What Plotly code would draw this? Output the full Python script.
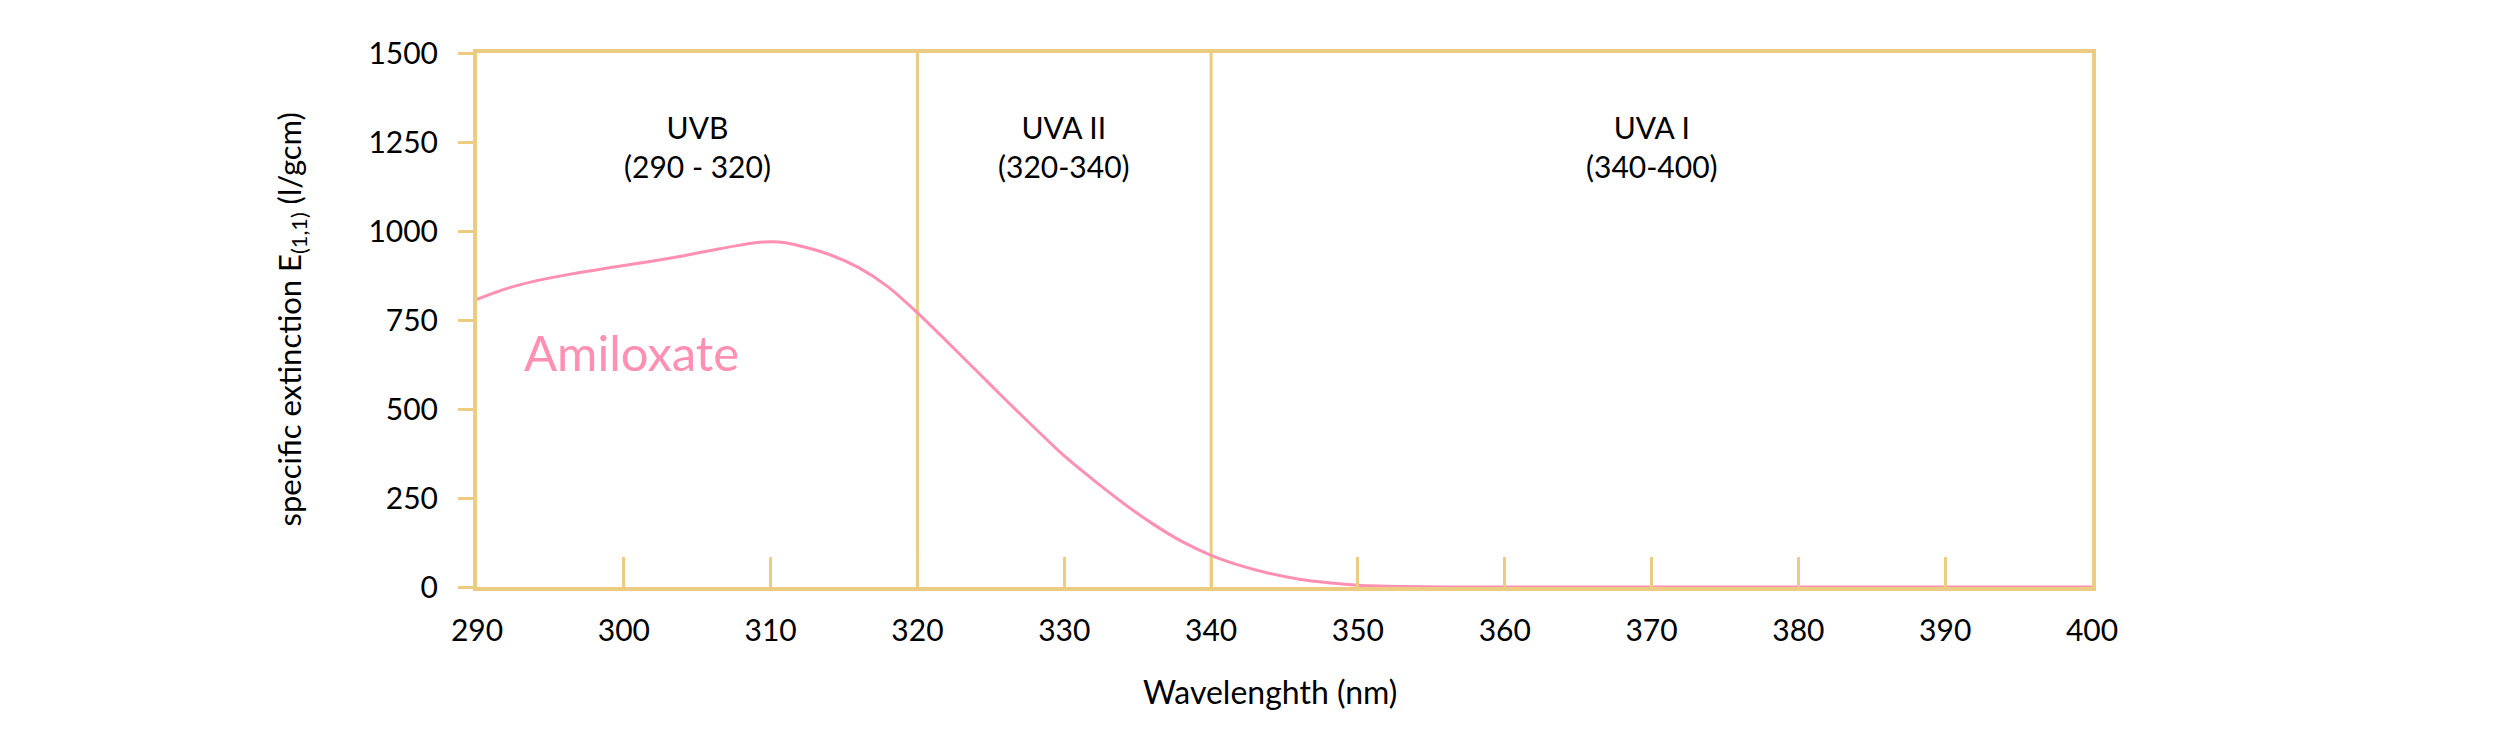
import plotly.graph_objects as go

# Amiloxate absorption curve
wavelength = [290, 292, 294, 296, 298, 300, 302, 304, 306, 308, 309.5, 311, 314, 316, 318,
              320, 322, 324, 326, 328, 330, 332, 334, 336, 338, 340,
              342, 344, 346, 348, 350, 353, 356, 360, 370, 380, 390, 400]
extinction = [808, 838, 860, 876, 890, 903, 916, 930, 946, 961, 969, 967, 934, 897, 843,
              770, 690, 608, 526, 446, 368, 300, 236, 178, 128, 89,
              60, 38, 22, 12, 5, 1.5, 0, 0, 0, 0, 0, 0]

band_edges = [320, 340]
band_names = ["UVB<br>(290 - 320)", "UVA II<br>(320-340)", "UVA I<br>(340-400)"]
band_centers = [305, 330, 370]

x_ticks = [290, 300, 310, 320, 330, 340, 350, 360, 370, 380, 390, 400]
y_ticks = [0, 250, 500, 750, 1000, 1250, 1500]

gold = "#EBCC80"
pink = "#FF8FB3"
font = "Lato"

fig = go.Figure()
fig.add_trace(go.Scatter(x=wavelength, y=extinction, mode="lines",
                         line=dict(color=pink, width=3, shape="spline", smoothing=0.8),
                         name="Amiloxate", showlegend=False))

for edge in band_edges:
    fig.add_shape(type="line", xref="x", yref="paper", x0=edge, x1=edge, y0=0, y1=1,
                  line=dict(color=gold, width=3), layer="below")

for name, cx in zip(band_names, band_centers):
    fig.add_annotation(x=cx, y=1238, text=name, showarrow=False,
                       font=dict(family=font, size=30, color="black"))

fig.add_annotation(x=300.5, y=660, text="Amiloxate", showarrow=False,
                   font=dict(family=font, size=49, color=pink))

# axis titles placed as annotations
fig.add_annotation(xref="paper", yref="paper", x=0.491, y=0, yshift=-126,
                   text="Wavelenghth (nm)", showarrow=False,
                   font=dict(family=font, size=32, color="black"))
fig.add_annotation(xref="paper", yref="paper", x=0, y=0.5, xshift=-210, textangle=-90,
                   text="specific extinction E<sub>(1,1)</sub> (l/gcm)", showarrow=False,
                   font=dict(family=font, size=31, color="black"))

fig.update_layout(
    width=2484, height=718,
    margin=dict(l=469, r=400, t=45, b=139),
    plot_bgcolor="white", paper_bgcolor="white",
    font=dict(family=font, color="black"),
)
fig.update_xaxes(
    range=[290, 400], tickvals=x_ticks, ticks="inside", ticklen=30, tickwidth=3,
    tickcolor=gold, showline=True, linecolor=gold, linewidth=4, mirror=True,
    showgrid=False, zeroline=False, tickfont=dict(size=30), ticklabelstandoff=14,
)
fig.update_yaxes(
    range=[0, 1500], tickvals=y_ticks, ticks="outside", ticklen=15, tickwidth=3,
    tickcolor=gold, showline=True, linecolor=gold, linewidth=4, mirror=True,
    showgrid=False, zeroline=False, tickfont=dict(size=30), ticklabelstandoff=14,
)

fig.write_html("out.html")
